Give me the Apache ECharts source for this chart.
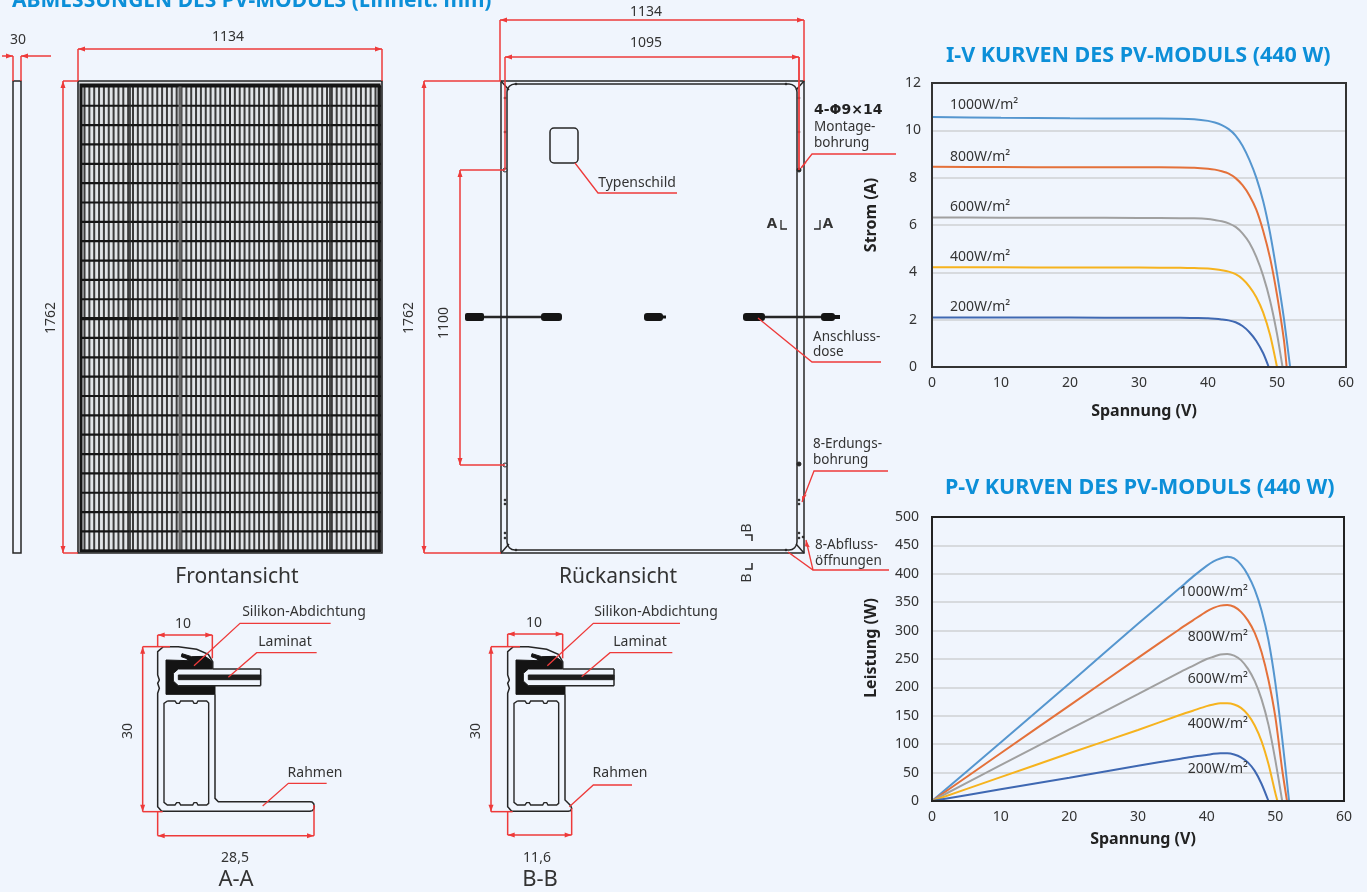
<!DOCTYPE html>
<html>
<head>
<meta charset="utf-8">
<style>html,body{margin:0;padding:0;background:#f0f5fd}#c{width:1367px;height:892px}</style>
<script src="https://cdn.jsdelivr.net/npm/echarts@6/dist/echarts.min.js"></script>
</head>
<body>
<div id="c"></div>
<script>
// ---------- chart data ----------
const irradiance = ['1000W/m²','800W/m²','600W/m²','400W/m²','200W/m²'];
const curveColors = ['#5596cf','#e4713a','#a0a0a0','#f6b31e','#3f68b2'];

const ivV1000 = [0,10,20,30,36,38,40,41,42,43,44,45,46,47,48,49,50,51,51.9];
const ivI1000 = [10.56,10.53,10.51,10.5,10.49,10.47,10.4,10.33,10.22,10.05,9.78,9.35,8.75,8,7,5.65,3.95,2.05,0];
const ivV800  = [0,10,20,30,36,38,40,41,42,43,44,45,46,47,48,49,50,51,51.4];
const ivI800  = [8.46,8.45,8.44,8.44,8.43,8.42,8.38,8.34,8.27,8.17,7.98,7.68,7.25,6.65,5.75,4.6,3.05,1.15,0];
const ivV600  = [0,10,20,30,36,38,40,41,42,43,44,45,46,47,48,49,50,50.8];
const ivI600  = [6.32,6.31,6.31,6.3,6.29,6.28,6.25,6.21,6.16,6.07,5.92,5.65,5.25,4.65,3.85,2.8,1.4,0];
const ivV400  = [0,10,20,30,36,38,40,41,42,43,44,45,46,47,48,49,50];
const ivI400  = [4.21,4.21,4.2,4.2,4.19,4.18,4.16,4.13,4.09,4.03,3.92,3.72,3.4,2.95,2.3,1.35,0];
const ivV200  = [0,10,20,30,36,38,40,41,42,43,44,45,46,47,48,48.8];
const ivI200  = [2.09,2.09,2.09,2.08,2.08,2.07,2.06,2.04,2.01,1.97,1.89,1.73,1.47,1.1,0.58,0];

const pvV1000 = [0,10,20,30,36,38,40,41,42,43,44,45,46,47,48,49,50,51,52];
const pvP1000 = [0,103,207,312,374,395,414,422,427,430,427,416,398,372,335,283,208,110,0];
const pvV800  = [0,10,20,30,36,38,40,41,42,43,44,45,46,47,48,49,50,51,51.7];
const pvP800  = [0,84,168,252,302,318,334,340,344,345,342,333,318,296,262,213,148,55,0];
const pvV600  = [0,10,20,30,36,38,40,41,42,43,44,45,46,47,48,49,50,51];
const pvP600  = [0,63,126,188,226,238,250,254,258,259,256,248,233,211,179,134,72,0];
const pvV400  = [0,10,20,30,36,38,40,41,42,43,44,45,46,47,48,49,50,50.3];
const pvP400  = [0,42,84,125,151,159,167,170,172,172,170,164,152,133,105,65,14,0];
const pvV200  = [0,10,20,30,36,38,40,41,42,43,44,45,46,47,48,49];
const pvP200  = [0,20.5,41,62,74,78,81,83,84,84,82,77,68,53,30,0];

const ivLabelV = 2.6;
const ivLabelI = [11.07,8.87,6.78,4.65,2.53];
const pvLabelV = 46;
const pvLabelP = [368,288,214,135,57];

// ---------- drawing helpers (technical drawing, not data) ----------
const FONT = '"Noto Sans", sans-serif';
const TXT = '#333333', RED = '#ee3a3a', INK = '#262626';
const g = [];
function line(x1,y1,x2,y2,c,w){g.push({type:'line',silent:true,shape:{x1,y1,x2,y2},style:{stroke:c||INK,lineWidth:w||1.5}});}
function poly(pts,o){o=o||{};g.push({type:o.fill?'polygon':'polyline',silent:true,shape:{points:pts},style:{stroke:o.c||INK,lineWidth:o.w==null?1.5:o.w,fill:o.fill||null}});}
function rect(x,y,w,h,o){o=o||{};g.push({type:'rect',silent:true,shape:{x,y,width:w,height:h,r:o.r||0},style:{stroke:o.c||null,lineWidth:o.w||1.5,fill:o.fill||null}});}
function dot(x,y,r,f){g.push({type:'circle',silent:true,shape:{cx:x,cy:y,r},style:{fill:f||INK,stroke:INK,lineWidth:1}});}
function text(s,x,y,o){o=o||{};g.push({type:'text',silent:true,x,y:y+1,rotation:o.rot||0,style:{text:s,fill:o.c||TXT,font:(o.bold?'bold ':'')+(o.size||14)+'px '+(o.font||FONT),align:o.align||'center',verticalAlign:'middle'}});}
function arrow(x,y,dx,dy){const L=7,H=2.5;g.push({type:'polygon',silent:true,shape:{points:[[x,y],[x-dx*L-dy*H,y-dy*L-dx*H],[x-dx*L+dy*H,y-dy*L+dx*H]]},style:{fill:RED}});}
function hdim(x1,x2,y){line(x1,y,x2,y,RED,1.5);arrow(x1,y,-1,0);arrow(x2,y,1,0);}
function vdim(x,y1,y2){line(x,y1,x,y2,RED,1.5);arrow(x,y1,0,-1);arrow(x,y2,0,1);}
function red(pts,w){poly(pts,{c:RED,w:w||1.3});}

// side view
rect(13,81,8,472,{c:INK});
line(13,56,13,81,RED);line(21,56,21,81,RED);
line(2,56,13,56,RED);line(21,56,51,56,RED);arrow(13,56,1,0);arrow(21,56,-1,0);
text('30',18,39);

// front view
rect(78,81,304,472,{fill:'#e2e5e8'});
for(let i=0;i<62;i++){const x=84.5+i*4.85;line(x,86,x,551,'#3c3c3c',2);}
for(let k=0;k<=24;k++){const y=86.4+k*19.35;line(81,y,381,y,'#151515',k===12?3.4:2.2);}
[130,230,280,330].forEach(x=>line(x,86,x,551,'#262626',1.6));
line(180,86,180,551,'#666666',3);
rect(81,85,298,466,{c:'#151515',w:3});
rect(78,81,304,472,{c:INK,w:1.6});
hdim(78,382,49);line(78,49,78,81,RED);line(382,49,382,81,RED);
text('1134',228,36);
vdim(63,81,553);line(63,81,78,81,RED);line(63,553,78,553,RED);
text('1762',51,317,{rot:Math.PI/2});
text('Frontansicht',237,576,{size:21});

// rear view
rect(501,81,303,472,{c:INK});
rect(507,84,290,466,{c:INK,r:8});
line(501,81,509,90);line(804,81,796,90);line(501,553,509,544);line(804,553,796,544);
[[505,98],[505,132],[505,500],[505,504],[505,533],[505,538],[799,98],[799,132],[799,500],[799,504],[799,533],[799,538],[803,537],[516,550],[786,550],[516,84],[786,84]].forEach(p=>dot(p[0],p[1],0.9));
[[505,170],[505,465],[799,170],[799,464]].forEach(p=>dot(p[0],p[1],2,p[0]>700?INK:'#f0f5fd'));
line(484,317,541,317,INK,2.6);line(765,317,821,317,INK,2.6);
rect(465,313,19,8,{fill:'#151515',r:2});rect(541,313,21,8,{fill:'#151515',r:3});
rect(644,313,19,8,{fill:'#151515',r:3});rect(662,315.5,4,3,{fill:'#151515'});
rect(743,313,22,8,{fill:'#151515',r:3});rect(821,313,14,8,{fill:'#151515',r:3});rect(834,315,6,4,{fill:'#151515'});
rect(550,128,28,35,{c:INK,r:4});
red([[575,163],[598,193],[677,193]]);
text('Typenschild',637,182);
hdim(500,804,20);line(500,20,500,81,RED);line(804,20,804,81,RED);
text('1134',646,11);
hdim(505,799,57);line(505,57,505,170,RED);line(799,57,799,170,RED,1.8);
text('1095',646,42);
vdim(424,81,553);line(424,81,501,81,RED);line(424,553,501,553,RED);
text('1762',409,317,{rot:Math.PI/2});
vdim(460,170,465);line(460,170,505,170,RED);line(460,465,505,465,RED);
text('1100',444,322,{rot:Math.PI/2});
text('4-Φ9×14',814,109,{align:'left',bold:true,c:'#222',font:'"DejaVu Sans"',size:14});
text('Montage-',814,126,{align:'left',size:13.5});
text('bohrung',814,142,{align:'left',size:13.5});
red([[801,168],[812,154],[896,154]]);arrow(801,169,-0.6,0.8);
text('Anschluss-',813,336,{align:'left',size:13.5});
text('dose',813,351,{align:'left',size:13.5});
red([[758,318],[812,362],[881,362]]);
text('8-Erdungs-',813,443,{align:'left',size:13.5});
text('bohrung',813,459,{align:'left',size:13.5});
red([[802,502],[814,471],[888,471]]);arrow(802,502,-0.35,0.93);
text('8-Abfluss-',815,544,{align:'left',size:13.5});
text('öffnungen',815,560,{align:'left',size:13.5});
red([[788,552],[813,570],[889,570]]);red([[806,540],[813,570]]);arrow(788,552,-0.8,-0.6);arrow(806,540,-0.2,-0.97);
text('A',772,223,{bold:true,size:15});text('A',828,223,{bold:true,size:15});
poly([[781,220],[781,229],[787,229]],{w:1.3});poly([[814,229],[820,229],[820,220]],{w:1.3});
text('B',747,527,{rot:Math.PI/2});text('B',747,577,{rot:Math.PI/2});
poly([[745,535],[752,535],[752,541]],{w:1.5});poly([[745,569],[752,569],[752,563]],{w:1.5});
text('Rückansicht',618,576,{size:21});

// cross sections: coordinates taken from a 3x sketch grid
function section(ox,oy,foot,lamEnd,dims){
  const P=(a)=>a.map(p=>[ox+p[0]/3,oy+p[1]/3]);
  const L=(x1,y1,x2,y2,c,w)=>line(ox+x1/3,oy+y1/3,ox+x2/3,oy+y2/3,c,w);
  poly(P([[168,195],[236,197],[228,190],[214,185],[216,176],[245,185],[285,184],[308,200],[308,222],[205,222],[190,235],[190,258],[205,272],[315,272],[315,298],[168,298]]),{fill:'#141414',c:'#141414',w:1});
  L(308,222,lamEnd,222,INK,1.5);L(205,272,lamEnd,272,INK,1.5);L(lamEnd,222,lamEnd,272,INK,1.5);
  poly(P([[205,240],[lamEnd,240],[lamEnd,254],[205,254]]),{fill:'#1e1e1e',c:'#1e1e1e',w:1});
  poly(P([[308,222],[308,200],[295,178],[260,163],[205,155],[160,155],[143,170],[143,240],[148,255],[143,265],[148,280],[143,295],[143,320],[143,635],[155,649]].concat(foot).concat([[315,298]])),{w:1.5});
  poly(P([[172,318],[195,318],[200,325],[208,325],[212,318],[248,318],[252,325],[260,325],[264,318],[290,318],[296,324],[296,625],[290,630],[264,630],[260,623],[252,623],[248,630],[212,630],[208,623],[200,623],[195,630],[172,630],[162,622],[162,325],[172,318]]),{w:1.4});
  dims(L,P);
}
section(110,595,[[600,649],[607,647],[612,641],[613,634],[611,626],[606,621],[600,620],[325,620],[315,610]],452,(L,P)=>{
  hdim(110+143/3,110+307/3,595+40);L(143,120,143,155,RED);L(307,120,307,190,RED);
  vdim(110+98/3,595+155/3,595+650/3);L(98,155,180,155,RED);L(98,650,158,650,RED);
  hdim(110+143/3,110+612/3,595+722/3);L(143,650,143,722,RED);L(612,630,612,722,RED);
  red(P([[252,212],[390,85],[662,85]]));red(P([[355,247],[440,173],[620,173]]));red(P([[458,633],[535,565],[650,565]]));
});
text('10',183,623);text('30',128,730,{rot:Math.PI/2});text('28,5',235,857);
text('Silikon-Abdichtung',304,611);text('Laminat',285,641);text('Rahmen',315,772);
text('A-A',236,879,{size:22});
section(460,595,[[325,649],[332,647],[335,640],[332,632],[325,625],[315,615]],462,(L,P)=>{
  hdim(460+143/3,460+308/3,595+117/3);L(143,117,143,155,RED);L(308,117,308,190,RED);
  vdim(460+93/3,595+155/3,595+650/3);L(93,155,180,155,RED);L(93,650,158,650,RED);
  hdim(460+143/3,460+335/3,595+720/3);L(143,650,143,720,RED);L(335,640,335,720,RED);
  red(P([[262,212],[400,85],[660,85]]));red(P([[365,245],[450,173],[637,173]]));red(P([[328,635],[400,570],[516,570]]));
});
text('10',534,622);text('30',476,730,{rot:Math.PI/2});text('11,6',537,857);
text('Silikon-Abdichtung',656,611);text('Laminat',640,641);text('Rahmen',620,772);
text('B-B',540,879,{size:22});

// ---------- charts ----------
function curve(i,vs,ys,gridIndex,labelCoord,pos){
  return {type:'line',xAxisIndex:gridIndex,yAxisIndex:gridIndex,name:irradiance[i],
    data:vs.map((v,k)=>[v,ys[k]]),smooth:0.25,showSymbol:false,symbol:'none',
    lineStyle:{color:curveColors[i],width:2},itemStyle:{color:curveColors[i]},silent:true,
    markPoint:{silent:true,symbol:'circle',symbolSize:0,data:[{coord:labelCoord}],
      label:{show:true,position:pos,distance:0,formatter:irradiance[i],color:TXT,fontFamily:FONT,fontSize:14}}};
}
function xAxis(i,gap){return {type:'value',gridIndex:i,min:0,max:60,interval:10,name:'Spannung (V)',nameLocation:'middle',nameGap:gap,
  nameTextStyle:{fontFamily:FONT,fontSize:16,fontWeight:'bold',color:'#222',padding:[0,0,0,10]},
  axisLine:{show:false},axisTick:{show:false},splitLine:{show:false},
  axisLabel:{fontFamily:FONT,fontSize:14,color:TXT,margin:9}};}
const titleStyle={fontFamily:FONT,fontWeight:'bold',fontSize:21.5,color:'#0c8fd8'};
const grid=(top,w,c)=>({left:932,top,width:w,height:284,show:true,borderColor:c,borderWidth:2,backgroundColor:'transparent',z:5});
const splitLine={showMinLine:false,showMaxLine:false,lineStyle:{color:'#cfd1d3',width:1.5}};
const chart=echarts.init(document.getElementById('c'),null,{renderer:'canvas',width:1367,height:892});
chart.setOption({
  animation:false,backgroundColor:'#f0f5fd',
  title:[
    {text:'ABMESSUNGEN DES PV-MODULS (Einheit: mm)',left:12,top:-9,padding:0,textStyle:{...titleStyle,fontSize:21}},
    {text:'I-V KURVEN DES PV-MODULS (440 W)',left:946,top:45,padding:0,textStyle:titleStyle},
    {text:'P-V KURVEN DES PV-MODULS (440 W)',left:945,top:477,padding:0,textStyle:titleStyle}
  ],
  grid:[grid(83,414,'#333'),grid(517,412,'#222')],
  xAxis:[xAxis(0,36),xAxis(1,30)],
  yAxis:[
    {type:'value',gridIndex:0,min:0,max:12,interval:2,name:'Strom (A)',nameLocation:'middle',nameGap:53,
     nameTextStyle:{fontFamily:FONT,fontSize:16,fontWeight:'bold',color:'#222',padding:[0,0,0,20]},
     axisLine:{show:false},axisTick:{show:false},splitLine,
     axisLabel:{fontFamily:FONT,fontSize:14,color:TXT,margin:19,align:'center',padding:[0,0,10,0]}},
    {type:'value',gridIndex:1,min:0,max:500,interval:50,name:'Leistung (W)',nameLocation:'middle',nameGap:53,
     nameTextStyle:{fontFamily:FONT,fontSize:16,fontWeight:'bold',color:'#222',padding:[0,0,0,22]},
     axisLine:{show:false},axisTick:{show:false},splitLine,
     axisLabel:{fontFamily:FONT,fontSize:14,color:TXT,margin:13}}
  ],
  series:[
    curve(0,ivV1000,ivI1000,0,[ivLabelV,ivLabelI[0]],'right'),
    curve(1,ivV800,ivI800,0,[ivLabelV,ivLabelI[1]],'right'),
    curve(2,ivV600,ivI600,0,[ivLabelV,ivLabelI[2]],'right'),
    curve(3,ivV400,ivI400,0,[ivLabelV,ivLabelI[3]],'right'),
    curve(4,ivV200,ivI200,0,[ivLabelV,ivLabelI[4]],'right'),
    curve(0,pvV1000,pvP1000,1,[pvLabelV,pvLabelP[0]],'left'),
    curve(1,pvV800,pvP800,1,[pvLabelV,pvLabelP[1]],'left'),
    curve(2,pvV600,pvP600,1,[pvLabelV,pvLabelP[2]],'left'),
    curve(3,pvV400,pvP400,1,[pvLabelV,pvLabelP[3]],'left'),
    curve(4,pvV200,pvP200,1,[pvLabelV,pvLabelP[4]],'left')
  ],
  graphic:{elements:g}
});
</script>
</body>
</html>
